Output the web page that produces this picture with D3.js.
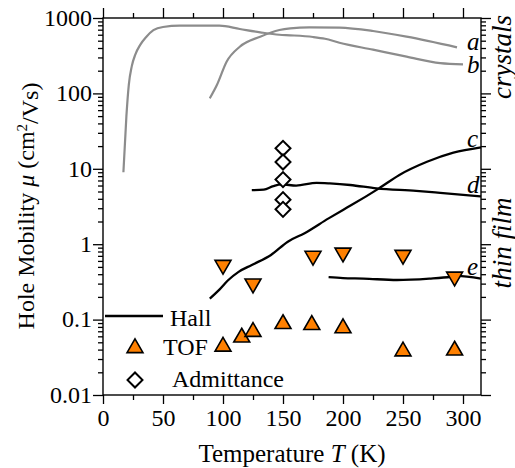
<!DOCTYPE html>
<html>
  <body style="margin:0">
    <style>
      body { background: #fff; }
      .tick line { stroke: #000; stroke-width: 1.3; }
    </style>
    <div id="chart"></div>
    <script src="https://d3js.org/d3.v7.min.js"></script>
    <script type="text/javascript">
      // single crystal curves (gray)
      const crystalA = [[89, 86], [95, 130], [103, 263], [114, 416], [131, 565], [147, 693], [156, 730],
        [172, 753], [197, 745], [225, 672], [253, 565], [295, 408]];
      const crystalB = [[17, 9], [19.5, 50], [21.5, 130], [24, 230], [27, 330], [31, 440], [36, 560],
        [42, 690], [50, 760], [64, 790], [97, 790], [114, 714], [131, 646], [147, 600], [156, 590],
        [175, 560], [185, 530], [197, 470], [225, 380], [253, 307], [281, 252], [300, 243]];
      // thin film Hall curves (black)
      const filmC = [[89, 0.19], [97, 0.25], [104, 0.33], [113, 0.43], [124, 0.53], [140, 0.72],
        [154, 1.08], [168, 1.4], [188, 2.2], [200, 2.85], [207, 3.3], [230, 5.5], [247, 8.3],
        [270, 12.4], [292, 16.4], [315, 19.3]];
      const filmD = [[124, 5.2], [134, 5.3], [142, 5.9], [149, 6.2], [161, 6.0], [178, 6.5], [189, 6.4],
        [206, 6.1], [228, 5.5], [261, 5.1], [281, 4.8], [315, 4.3]];
      const filmE = [[188, 0.365], [200, 0.355], [217, 0.35], [245, 0.335], [272, 0.35], [290, 0.37],
        [295, 0.38], [315, 0.35]];
      // TOF points
      const tofUpT = [100, 115.6, 125, 150, 174, 200, 250, 293];
      const tofUpMu = [0.044, 0.058, 0.069, 0.0875, 0.085, 0.077, 0.038, 0.039];
      const tofDownT = [100, 125, 175, 200, 250, 293];
      const tofDownMu = [0.53, 0.30, 0.70, 0.77, 0.72, 0.37];
      // admittance points
      const admT = [150, 150, 150, 150, 150];
      const admMu = [18.7, 12.3, 7.2, 3.9, 2.9];
      // ticks
      const yMajor = [0.01, 0.1, 1, 10, 100, 1000];
      const yLabels = ['0.01', '0.1', '1', '10', '100', '1000'];
      const xMajor = [0, 50, 100, 150, 200, 250, 300];
      const xMinor = [25, 75, 125, 175, 225, 275];

      const width = 515;
      const height = 468;
      const serif = '"Liberation Serif"';
      const x = d3.scaleLinear().domain([0, 315]).range([103, 481]);
      const y = d3.scaleLog().domain([0.01, 1000]).range([395, 18]);

      const yMinor = [];
      yMajor.slice(0, -1).forEach((d) => {
        for (let k = 2; k <= 9; k++) yMinor.push(d * k);
      });

      const svg = d3.select('#chart').append('svg')
        .attr('width', width).attr('height', height);

      function axis(gen, tx, ty, vals, size, fmt, pad) {
        const g = svg.append('g')
          .attr('transform', `translate(${tx},${ty})`)
          .call(gen.tickValues(vals).tickSize(size).tickSizeOuter(0).tickPadding(pad || 2)
            .tickFormat(fmt || (() => '')));
        g.select('.domain').remove();
        g.selectAll('text').style('font-size', '24px').attr('fill', '#000');
        return g;
      }
      // left
      const gl = axis(d3.axisLeft(y), 103, 0, yMajor, 10, (d, i) => yLabels[i], 1);
      gl.selectAll('text').attr('dy', '0.3em');
      axis(d3.axisLeft(y), 103, 0, yMinor, 5);
      // right
      axis(d3.axisRight(y), 481, 0, yMajor, 10);
      axis(d3.axisRight(y), 481, 0, yMinor, 5);
      // bottom
      axis(d3.axisBottom(x), 0, 395, xMajor, 9, d3.format('d'), 5);
      axis(d3.axisBottom(x), 0, 395, xMinor, 5);
      // top
      axis(d3.axisTop(x), 0, 18, xMajor, 10);
      axis(d3.axisTop(x), 0, 18, xMinor, 5);

      // frame
      svg.append('rect')
        .attr('x', 103).attr('y', 18).attr('width', 481 - 103).attr('height', 395 - 18)
        .attr('fill', 'none').attr('stroke', '#000').attr('stroke-width', 1.4);

      const line = d3.line()
        .x((d) => x(d[0]))
        .y((d) => y(d[1]))
        .curve(d3.curveMonotoneX);

      [crystalA, crystalB].forEach((c) => {
        svg.append('path').attr('d', line(c))
          .attr('fill', 'none').attr('stroke', '#8c8c8c').attr('stroke-width', 2.2);
      });
      [filmC, filmD, filmE].forEach((c) => {
        svg.append('path').attr('d', line(c))
          .attr('fill', 'none').attr('stroke', '#000').attr('stroke-width', 2.3);
      });

      const tri = d3.symbol(d3.symbolTriangle).size(110);
      const dia = d3.symbol(d3.symbolSquare).size(112);

      svg.selectAll('.tofdown').data(tofDownT).enter().append('path')
        .attr('d', tri)
        .attr('transform', (d, i) => `translate(${x(d)},${y(tofDownMu[i])}) rotate(180)`)
        .attr('fill', '#ff8000').attr('stroke', '#000').attr('stroke-width', 1.6);

      svg.selectAll('.tofup').data(tofUpT).enter().append('path')
        .attr('d', tri)
        .attr('transform', (d, i) => `translate(${x(d)},${y(tofUpMu[i])})`)
        .attr('fill', '#ff8000').attr('stroke', '#000').attr('stroke-width', 1.6);

      svg.selectAll('.adm').data(admT).enter().append('path')
        .attr('d', dia)
        .attr('transform', (d, i) => `translate(${x(d)},${y(admMu[i])}) rotate(45)`)
        .attr('fill', '#fff').attr('stroke', '#000').attr('stroke-width', 2);

      // curve letters
      const letters = [['a', 50], ['b', 73], ['c', 147], ['d', 193], ['e', 275]];
      letters.forEach(([t, by]) => {
        svg.append('text').attr('x', 467).attr('y', by)
          .style('font-size', '25px').style('font-style', 'italic').text(t);
      });

      // legend
      svg.append('line').attr('x1', 105).attr('x2', 163).attr('y1', 316).attr('y2', 316)
        .attr('stroke', '#000').attr('stroke-width', 2.3);
      svg.append('text').attr('x', 170).attr('y', 326).style('font-size', '24px').text('Hall');
      svg.append('path').attr('d', tri).attr('transform', 'translate(135,348)')
        .attr('fill', '#ff8000').attr('stroke', '#000').attr('stroke-width', 1.6);
      svg.append('text').attr('x', 163).attr('y', 355).style('font-size', '24px').text('TOF');
      svg.append('path').attr('d', dia).attr('transform', 'translate(135,380) rotate(45)')
        .attr('fill', '#fff').attr('stroke', '#000').attr('stroke-width', 2);
      svg.append('text').attr('x', 172).attr('y', 387).style('font-size', '24px').text('Admittance');

      // axis titles
      const xt = svg.append('text').attr('x', 292).attr('y', 462)
        .attr('text-anchor', 'middle').style('font-size', '25px');
      xt.append('tspan').text('Temperature ');
      xt.append('tspan').style('font-style', 'italic').text('T');
      xt.append('tspan').text(' (K)');

      const yt = svg.append('text').attr('transform', 'translate(34,206) rotate(-90)')
        .attr('text-anchor', 'middle').style('font-size', '24px');
      yt.append('tspan').text('Hole Mobility ');
      yt.append('tspan').style('font-style', 'italic').text('μ');
      yt.append('tspan').text(' (cm');
      yt.append('tspan').attr('dy', '-0.45em').style('font-size', '15px').text('2');
      yt.append('tspan').attr('dy', '0.45em').text('/Vs)');

      svg.append('text').attr('transform', 'translate(511,57) rotate(-90)')
        .attr('text-anchor', 'middle').style('font-size', '27px').style('font-style', 'italic')
        .text('crystals');
      svg.append('text').attr('transform', 'translate(511,243) rotate(-90)')
        .attr('text-anchor', 'middle').style('font-size', '27px').style('font-style', 'italic')
        .text('thin film');

      // one serif face for every text
      svg.selectAll('text').style('font-family', serif).style('fill', '#000');
      svg.selectAll('g').attr('font-family', null);
    </script>
  </body>
</html>
